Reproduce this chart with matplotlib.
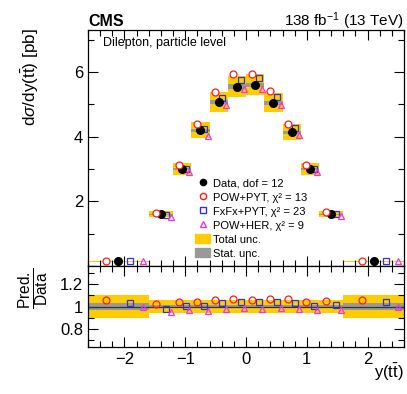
import matplotlib
matplotlib.use("Agg")
import matplotlib.pyplot as plt
import numpy as np
from matplotlib.ticker import MultipleLocator
from matplotlib.patches import Patch
from matplotlib.lines import Line2D

plt.rcParams['font.family'] = ['Liberation Sans', 'DejaVu Sans']
plt.rcParams['mathtext.fontset'] = 'custom'
plt.rcParams['mathtext.rm'] = 'Liberation Sans'
plt.rcParams['mathtext.it'] = 'Liberation Sans:italic'
plt.rcParams['mathtext.bf'] = 'Liberation Sans:bold'

# bin edges in y(ttbar)
edges = [-2.6, -1.6, -1.2, -0.9, -0.6, -0.3, 0.0, 0.3, 0.6, 0.9, 1.2, 1.6, 2.6]
# measured cross section [pb]
data = [0.15, 1.60, 3.00, 4.20, 5.07, 5.55, 5.60, 5.05, 4.13, 3.00, 1.60, 0.15]
# relative uncertainties
tot_rel = [0.10, 0.055, 0.06, 0.06, 0.06, 0.058, 0.058, 0.06, 0.06, 0.06, 0.055, 0.10]
stat_rel = [0.035, 0.012, 0.012, 0.012, 0.012, 0.012, 0.012, 0.012, 0.012, 0.012, 0.012, 0.035]
# prediction / data
r_powpyt = [1.06, 1.024, 1.042, 1.042, 1.06, 1.07, 1.06, 1.07, 1.064, 1.042, 1.045, 1.06]
r_fxfx = [1.03, 0.976, 1.003, 1.006, 1.027, 1.036, 1.036, 1.036, 1.033, 1.003, 1.012, 1.036]
r_powher = [0.994, 0.951, 0.966, 0.957, 0.982, 0.988, 0.976, 0.988, 0.982, 0.966, 0.966, 0.994]

edges = np.array(edges)
data = np.array(data)
lo = edges[:-1]
w = np.diff(edges)
cen = lo + 0.5 * w
tot_abs = data * np.array(tot_rel)
stat_abs = data * np.array(stat_rel)

gold = '#ffcc00'
grey = '#999999'
red = '#ff1a1a'
blue = '#3333cc'
mag = '#ee33ee'

fig = plt.figure(figsize=(4.07, 3.94), dpi=100)
ax = fig.add_axes([0.216, 0.325, 0.777, 0.599])
rax = fig.add_axes([0.216, 0.119, 0.777, 0.206], sharex=ax)

# top panel
ax.bar(cen, 2 * tot_abs, width=w, bottom=data - tot_abs, color=gold, linewidth=0)
ax.bar(cen, 2 * stat_abs, width=w, bottom=data - stat_abs, color=grey, linewidth=0)
ax.errorbar(lo + 0.3 * w, data * np.array(r_powpyt), yerr=0.06, fmt='o', ms=5,
            mfc='white', mec=red, ecolor=red, elinewidth=0.8, mew=0.9, capsize=0)
ax.plot(lo + 0.7 * w, data * np.array(r_fxfx), 's', ms=5, mfc='none', mec=blue, mew=0.9)
ax.plot(lo + 0.9 * w, data * np.array(r_powher), '^', ms=5, mfc='none', mec=mag, mew=0.9)
ax.plot(cen, data, 'o', ms=5.5, color='black')

ax.set_xlim(-2.6, 2.6)
ax.set_ylim(0, 7.3)

# ratio panel
rax.bar(cen, 2 * np.array(tot_rel), width=w, bottom=1 - np.array(tot_rel), color=gold, linewidth=0)
rax.bar(cen, 2 * np.array(stat_rel), width=w, bottom=1 - np.array(stat_rel), color=grey, linewidth=0)
rax.axhline(1, color='#333333', lw=0.9)
rax.plot(lo + 0.3 * w, r_powpyt, 'o', ms=5, mfc='none', mec=red, mew=0.9)
rax.plot(lo + 0.7 * w, r_fxfx, 's', ms=5, mfc='none', mec=blue, mew=0.9)
rax.plot(lo + 0.9 * w, r_powher, '^', ms=5, mfc='none', mec=mag, mew=0.9)
rax.set_ylim(0.64, 1.36)

for a in (ax, rax):
    a.tick_params(which='both', direction='in', top=True, right=True, labelsize=12)
    a.tick_params(which='major', length=7, width=0.8)
    a.tick_params(which='minor', length=4, width=0.8)
    a.xaxis.set_major_locator(MultipleLocator(1))
    a.xaxis.set_minor_locator(MultipleLocator(0.2))
    for s in a.spines.values():
        s.set_linewidth(0.9)
ax.tick_params(labelbottom=False)
ax.yaxis.set_minor_locator(MultipleLocator(1))
ax.set_yticks([2, 4, 6])
rax.yaxis.set_minor_locator(MultipleLocator(0.1))
rax.set_yticks([0.8, 1.0, 1.2])
rax.set_yticklabels(['0.8', '1', '1.2'])

# legend
handles = [
    Line2D([], [], marker='o', ls='none', color='black', ms=4.5),
    Line2D([], [], marker='o', ls='none', mfc='none', mec=red, ms=4.5),
    Line2D([], [], marker='s', ls='none', mfc='none', mec=blue, ms=4.5),
    Line2D([], [], marker='^', ls='none', mfc='none', mec=mag, ms=4.5),
    Patch(color=gold),
    Patch(color=grey),
]
labels = ['Data, dof = 12', 'POW+PYT, χ² = 13', 'FxFx+PYT, χ² = 23',
          'POW+HER, χ² = 9', 'Total unc.', 'Stat. unc.']
ax.legend(handles, labels, loc='upper left', bbox_to_anchor=(0.34, 0.372), frameon=False,
          fontsize=8, handlelength=1.3, handleheight=0.9, handletextpad=0.25,
          labelspacing=0.32, borderaxespad=0, borderpad=0)

ax.text(0.047, 0.968, 'Dilepton, particle level', transform=ax.transAxes, fontsize=9,
        ha='left', va='top')

fig.text(88 / 407, 1 - 26 / 394, 'CMS', fontsize=11.5, fontweight='bold', ha='left', va='baseline')
fig.text(404 / 407, 1 - 26 / 394, '138 fb$^{-1}$ (13 TeV)', fontsize=11, ha='right', va='baseline')
fig.text(30 / 407, 1 - 28 / 394, 'd$\\sigma$/dy$(\\mathrm{t\\bar{t}})$ [pb]', fontsize=12.3,
         rotation=90, ha='center', va='top')
fig.text(34 / 407, 1 - 267 / 394, '$\\frac{\\mathrm{Pred.}}{\\mathrm{Data}}$', fontsize=16,
         rotation=90, ha='center', va='top')
fig.text(404 / 407, 1 - 372 / 394, 'y$(\\mathrm{t\\bar{t}})$', fontsize=12, ha='right', va='center')

fig.savefig('out.png', dpi=100)
